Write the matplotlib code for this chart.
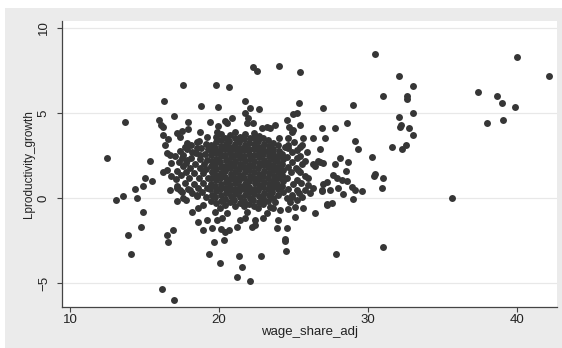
import matplotlib
matplotlib.use('Agg')
import matplotlib.pyplot as plt
from matplotlib.patches import Rectangle

plt.rcParams['font.family'] = ['Liberation Sans', 'DejaVu Sans']

# sparse points on the left
left_x = [12.5, 13.09, 13.58, 13.69, 13.91, 14.1, 14.36, 14.47, 14.74, 14.88,
          14.92, 15.03, 15.37, 15.48, 15.99, 16.09, 16.22, 16.31, 16.26, 16.38,
          16.6, 16.49, 16.71, 16.26, 16.49, 16.15, 17.0, 16.49, 16.55, 16.94,
          16.98]
left_y = [2.33, -0.12, 0.12, 4.49, -2.18, -3.3, 0.53, -0.02, -1.69, -0.8,
          0.73, 1.2, 2.2, 1.0, 4.59, 4.29, 4.19, 5.67, 3.71, 3.12,
          3.45, 2.66, 2.53, 1.55, 1.65, -5.37, -6.0, -2.18, -2.57, -1.88,
          4.82]

# points below the main cloud
low_x = [17.16, 17.6, 17.79, 18.17, 18.61, 18.61, 19.17, 18.95, 19.51, 19.84,
         20.18, 19.73, 20.07, 18.95, 21.19, 21.41, 20.16, 20.4, 20.66, 20.32,
         19.66, 19.35, 20.07, 21.36, 21.54, 21.23, 22.08, 22.8, 21.86, 21.74,
         22.2, 22.42, 22.39, 22.93, 20.56, 23.98, 24.09, 23.42, 23.2, 23.87,
         24.54, 24.43, 24.45, 24.5, 25.1, 26.44, 25.66, 25.1, 24.65, 23.64,
         22.64, 27.83, 31.03, 27.23, 27.56]
low_y = [-0.18, -0.02, -0.12, -0.8, -0.61, -1.39, -1.29, -1.88, -1.78, -1.29,
         -1.2, -0.8, -0.61, -0.41, -1.69, -1.29, -1.82, -2.0, -1.88, -2.49,
         -2.57, -3.29, -3.8, -3.41, -4.08, -4.67, -4.88, -3.41, -0.8, -1.2,
         -1.69, -1.29, -1.57, -1.18, -0.88, -1.29, -0.71, -0.51, -0.9, -1.78,
         -1.78, -2.41, -2.51, -3.1, -1.1, -0.9, -0.61, -0.51, -0.65, -0.61,
         -0.61, -3.29, -2.9, -0.41, -0.31]

# points above the main cloud
up_x = [17.16, 17.5, 17.38, 17.94, 17.94, 18.72, 18.68, 19.4, 19.84, 19.95,
        20.4, 20.52, 20.85, 21.74, 21.97, 21.86, 22.3, 22.86, 23.2, 23.42,
        23.76, 24.05, 24.54, 24.72, 24.88, 24.99, 25.44, 24.99, 25.21, 22.08,
        22.68, 21.74, 20.68, 19.82, 19.95, 18.77, 17.61, 22.3, 22.57, 24.05,
        25.44, 25.35, 27.0, 29.01, 30.47, 26.89, 27.79, 28.57, 26.33, 27.11,
        25.66]
up_y = [3.8, 3.96, 3.6, 4.49, 4.04, 3.86, 3.37, 4.49, 3.9, 4.24,
        4.55, 4.39, 4.69, 4.98, 4.69, 4.39, 4.39, 4.1, 4.16, 4.1,
        4.29, 3.55, 4.59, 4.19, 3.9, 4.0, 4.29, 4.94, 5.02, 5.28,
        5.22, 5.67, 6.53, 6.61, 5.33, 5.41, 6.61, 7.69, 7.49, 7.78,
        7.39, 5.61, 5.29, 5.49, 8.47, 4.1, 4.1, 4.39, 3.51, 3.51,
        3.51]

# right side of the cloud
right_x = [24.55, 24.6, 24.58, 24.62, 24.55, 24.6, 24.65, 24.9, 24.95, 24.85,
           24.92, 24.88, 25.2, 25.25, 25.15, 25.22, 25.5, 25.45, 25.55, 25.45,
           25.8, 25.75, 25.99, 25.77, 25.55, 26.11, 26.33, 26.89, 27.0, 25.99,
           25.32, 25.21, 24.88, 24.77, 23.76, 22.87, 25.34, 26.44, 27.67, 27.9,
           28.23, 28.57, 27.23, 27.45, 28.9, 29.13, 29.58, 28.34, 29.01, 30.47,
           30.99, 30.96, 28.12, 28.68, 27.79, 28.5, 26.28, 26.78, 26.96, 26.67,
           29.13, 29.35, 31.59, 30.25, 26.78, 25.88, 25.44, 25.06, 24.65, 25.55,
           25.21, 24.43, 30.38, 27.96, 26.89, 27.27]
right_y = [0.0, 0.5, 1.2, 1.8, 2.4, 2.95, 3.5, 0.15, 0.85, 1.5,
           2.1, 2.7, 0.45, 1.05, 1.75, 2.35, 0.9, 1.55, 2.0, 2.45,
           1.3, 2.15, 0.76, 0.47, 0.08, 0.27, 0.57, 0.47, 0.8, 1.16,
           1.65, -0.12, 0.08, -0.22, -0.22, -0.22, 0.27, 1.9, 1.35, 1.2,
           1.06, 1.0, 0.92, 0.47, 0.67, 0.47, 0.41, 0.22, -0.08, 1.39,
           1.2, 0.61, 2.33, 2.14, 2.0, 1.59, 2.0, 2.14, 2.08, 2.2,
           3.37, 2.86, 3.02, 2.39, 2.86, 2.72, 3.02, 3.31, 3.12, 3.12,
           2.82, 3.02, 1.28, 0.59, 0.43, -0.35]

# far right group
far_x = [32.08, 33.0, 32.59, 32.59, 33.04, 32.08, 32.19, 32.12, 32.77, 33.0,
         32.3, 32.55, 35.66, 37.36, 37.96, 38.68, 38.97, 39.04, 39.84, 40.02,
         42.12, 30.99]
far_y = [7.18, 6.59, 6.0, 5.8, 4.98, 4.78, 4.27, 4.18, 4.1, 3.69,
         2.86, 3.1, -0.02, 6.2, 4.39, 6.0, 5.61, 4.59, 5.37, 8.29,
         7.18, 5.98]

# left part of the cloud
band_x = [17.1, 17.2, 17.3, 17.15, 17.4, 17.45, 17.55, 17.6, 17.7, 17.75,
          17.8, 17.85, 17.9, 18.0, 18.05, 18.1, 18.15, 18.2, 18.3, 18.35,
          18.4, 18.45, 18.5, 18.55, 18.6, 18.65, 18.7, 18.75, 18.8, 18.85,
          18.9, 18.95, 19.0, 19.05, 19.1, 19.15, 19.2, 19.25, 19.15, 19.22,
          19.25, 19.2, 16.71, 17.16, 17.5, 18.05, 18.5, 17.5, 17.83, 18.17,
          18.5, 18.72, 17.83, 17.72, 16.79, 16.79, 17.04, 17.35]
band_y = [1.1, 1.6, 2.1, 0.7, 0.45, 1.35, 1.85, 2.5, 0.9, 1.5,
          2.05, 2.9, 0.55, 1.2, 1.75, 2.35, 3.1, 0.3, 0.85, 1.45,
          2.0, 2.65, 3.3, 0.1, 0.6, 1.15, 1.75, 2.3, 2.95, 0.35,
          0.9, 1.45, 2.0, 2.6, 3.2, 0.05, 0.6, 1.15, 1.7, 2.25,
          2.85, 3.6, 0.47, 0.57, 0.37, 0.47, 0.18, 2.34, 2.24, 2.72,
          2.92, 2.53, 3.22, 3.02, 1.27, 2.06, 2.45, 2.75]

# dense core, one line per column
core_x = [19.45, 19.5, 19.42, 19.48, 19.44, 19.52, 19.46, 19.5, 19.43, 19.49, 19.47,
          19.78, 19.74, 19.8, 19.76, 19.82, 19.77, 19.79, 19.75, 19.81, 19.78, 19.74, 19.8, 19.77,
          20.1, 20.14, 20.08, 20.12, 20.06, 20.11, 20.15, 20.09, 20.13, 20.07, 20.12, 20.1, 20.14,
          20.42, 20.38, 20.45, 20.4, 20.44, 20.39, 20.43, 20.41, 20.46, 20.4, 20.37, 20.44, 20.42,
          20.74, 20.78, 20.71, 20.76, 20.73, 20.77, 20.72, 20.75, 20.79, 20.73, 20.76, 20.7, 20.75,
          21.06, 21.02, 21.08, 21.04, 21.1, 21.05, 21.07, 21.03, 21.09, 21.06, 21.04, 21.08, 21.05, 21.07,
          21.38, 21.42, 21.35, 21.4, 21.37, 21.41, 21.36, 21.39, 21.43, 21.37, 21.4, 21.36, 21.41,
          21.7, 21.66, 21.72, 21.68, 21.74, 21.69, 21.71, 21.67, 21.73, 21.7, 21.68, 21.72, 21.69, 21.71,
          22.02, 22.06, 21.99, 22.04, 22.01, 22.05, 22.0, 22.03, 22.07, 22.01, 22.04, 22.0, 22.05,
          22.34, 22.3, 22.36, 22.32, 22.38, 22.33, 22.35, 22.31, 22.37, 22.34, 22.32, 22.36, 22.33, 22.35,
          22.66, 22.7, 22.63, 22.68, 22.65, 22.69, 22.64, 22.67, 22.71, 22.65, 22.68, 22.64, 22.69,
          22.98, 22.94, 23.0, 22.96, 23.02, 22.97, 22.99, 22.95, 23.01, 22.98, 22.96, 23.0, 22.97,
          23.3, 23.34, 23.27, 23.32, 23.29, 23.33, 23.28, 23.31, 23.35, 23.29, 23.32, 23.28,
          23.62, 23.58, 23.64, 23.6, 23.66, 23.61, 23.63, 23.59, 23.65, 23.62, 23.6,
          23.94, 23.98, 23.91, 23.96, 23.93, 23.97, 23.92, 23.95, 23.99, 23.93,
          24.26, 24.22, 24.28, 24.24, 24.3, 24.25, 24.27, 24.23]
core_y = [-0.15, 0.2, 0.55, 0.85, 1.2, 1.5, 1.85, 2.15, 2.5, 2.8, 3.1,
          -0.3, 0.05, 0.4, 0.7, 1.05, 1.35, 1.7, 2.0, 2.3, 2.65, 2.95, 3.3, 3.6,
          -0.2, 0.15, 0.5, 0.8, 1.15, 1.45, 1.8, 2.1, 2.45, 2.75, 3.05, 3.4, 3.75,
          -0.4, -0.05, 0.3, 0.6, 0.95, 1.25, 1.6, 1.9, 2.25, 2.55, 2.9, 3.2, 3.5,
          -0.25, 0.1, 0.45, 0.75, 1.1, 1.4, 1.75, 2.05, 2.4, 2.7, 3.0, 3.35, 3.7,
          -0.45, -0.1, 0.25, 0.55, 0.9, 1.2, 1.55, 1.85, 2.2, 2.5, 2.85, 3.15, 3.5, 3.85,
          -0.3, 0.05, 0.4, 0.7, 1.05, 1.35, 1.7, 2.0, 2.35, 2.65, 2.95, 3.3, 3.6,
          -0.5, -0.15, 0.2, 0.5, 0.85, 1.15, 1.5, 1.8, 2.15, 2.45, 2.8, 3.1, 3.45, 3.75,
          -0.35, 0.0, 0.35, 0.65, 1.0, 1.3, 1.65, 1.95, 2.3, 2.6, 2.9, 3.25, 3.55,
          -0.45, -0.1, 0.25, 0.55, 0.9, 1.2, 1.55, 1.85, 2.2, 2.5, 2.85, 3.15, 3.5, 3.8,
          -0.25, 0.1, 0.45, 0.75, 1.1, 1.4, 1.75, 2.05, 2.4, 2.7, 3.0, 3.35, 3.65,
          -0.35, 0.0, 0.3, 0.65, 0.95, 1.3, 1.6, 1.95, 2.25, 2.6, 2.9, 3.2, 3.55,
          -0.2, 0.15, 0.5, 0.8, 1.15, 1.45, 1.8, 2.1, 2.45, 2.75, 3.05, 3.4,
          0.0, 0.35, 0.65, 1.0, 1.3, 1.65, 1.95, 2.3, 2.6, 2.9, 3.25,
          0.2, 0.5, 0.85, 1.15, 1.5, 1.8, 2.15, 2.45, 2.75, 3.1,
          0.35, 0.7, 1.0, 1.35, 1.65, 2.0, 2.3, 2.6]

xs = left_x + low_x + up_x + right_x + far_x + band_x + core_x
ys = left_y + low_y + up_y + right_y + far_y + band_y + core_y

W, H = 562, 348
fig = plt.figure(figsize=(W / 100, H / 100), dpi=100, facecolor='white')
# stata style graph region
fig.patches.append(Rectangle((5 / W, 0), 1, (H - 8) / H, transform=fig.transFigure,
                             facecolor='#ebebeb', edgecolor='none', zorder=-10))

ax = fig.add_axes([61.7 / W, (H - 306.7) / H, (556.7 - 61.7) / W, (306.7 - 21) / H])
ax.set_zorder(1)
ax.set_facecolor('white')

ax.scatter(xs, ys, s=25, color='#363636', linewidths=0, zorder=3)

ax.set_xlim(9.44, 42.66)
ax.set_ylim(-6.39, 10.4)
ax.set_xticks([10, 20, 30, 40])
ax.set_yticks([-5, 0, 5, 10])
ax.yaxis.grid(True, color='#e8e8e8', lw=0.9)
ax.set_axisbelow(True)

for s in ['top', 'right']:
    ax.spines[s].set_visible(False)
for s in ['left', 'bottom']:
    ax.spines[s].set_color('#444444')
    ax.spines[s].set_linewidth(0.9)

ax.tick_params(axis='both', direction='out', length=3.5, width=0.8, color='#444444',
               labelsize=9.5, labelcolor='#222222')
ax.tick_params(axis='x', pad=1.5)
ax.tick_params(axis='y', pad=5, labelrotation=90)
for lab in ax.get_yticklabels():
    lab.set_va('center')

ax.set_xlabel('wage_share_adj', fontsize=9.5, color='#222222', labelpad=0.5)
ax.set_ylabel('Lproductivity_growth', fontsize=8.5, color='#222222', labelpad=2)

fig.savefig('out.png', dpi=100)
